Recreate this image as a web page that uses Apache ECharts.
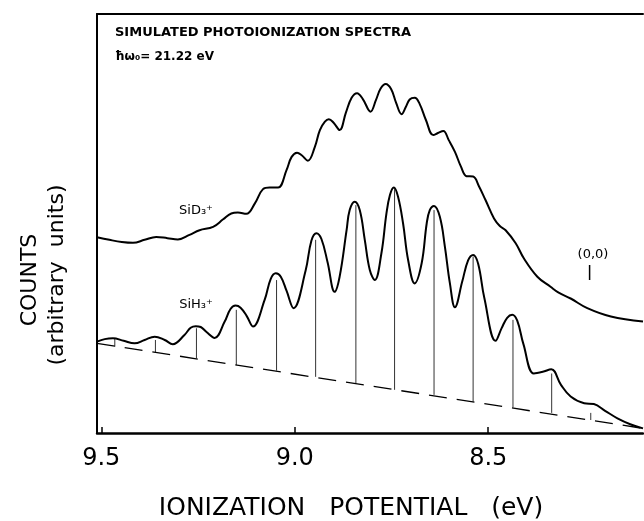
<!DOCTYPE html>
<html>
<head>
<meta charset="utf-8">
<script src="https://cdn.jsdelivr.net/npm/echarts@6/dist/echarts.min.js"></script>
<style>
html,body{margin:0;padding:0;background:#fff;}
#container1{width:644px;height:521px;}
</style>
</head>
<body>
<div id="container1"></div>
<script>
// values (eV, arbitrary counts 0-100)
var sidX = [9.511, 9.479, 9.447, 9.418, 9.388, 9.358, 9.329, 9.302, 9.272, 9.246, 9.211, 9.185, 9.164, 9.147, 9.125, 9.103, 9.082, 9.065, 9.043, 9.021, 9.008, 8.994, 8.982, 8.966, 8.948, 8.935, 8.922, 8.912, 8.899, 8.884, 8.868, 8.853, 8.839, 8.824, 8.804, 8.790, 8.778, 8.765, 8.751, 8.738, 8.724, 8.713, 8.703, 8.690, 8.677, 8.661, 8.642, 8.630, 8.616, 8.602, 8.586, 8.571, 8.556, 8.539, 8.524, 8.507, 8.485, 8.470, 8.455, 8.429, 8.408, 8.373, 8.339, 8.318, 8.287, 8.244, 8.183, 8.100];
var sidY = [46.7, 46.1, 45.6, 45.4, 46.1, 46.8, 46.5, 46.2, 47.3, 48.4, 49.2, 51.0, 52.4, 52.6, 52.3, 54.8, 58.2, 58.6, 58.6, 62.8, 65.9, 66.9, 66.3, 65.0, 68.3, 72.3, 74.3, 74.9, 74.0, 72.3, 76.4, 80.0, 81.1, 79.7, 76.7, 79.5, 82.2, 83.3, 82.1, 78.8, 76.1, 77.8, 79.6, 80.0, 78.5, 74.7, 71.1, 71.6, 72.1, 69.9, 67.1, 63.7, 61.3, 61.2, 58.9, 55.6, 51.2, 49.4, 48.4, 45.3, 41.7, 37.3, 34.9, 33.5, 32.1, 29.8, 27.8, 26.6];

var sihX = [9.511, 9.491, 9.470, 9.442, 9.414, 9.388, 9.362, 9.336, 9.315, 9.285, 9.269, 9.256, 9.243, 9.228, 9.207, 9.181, 9.166, 9.153, 9.140, 9.124, 9.108, 9.078, 9.062, 9.049, 9.036, 9.021, 9.003, 8.972, 8.957, 8.944, 8.931, 8.915, 8.897, 8.884, 8.866, 8.858, 8.845, 8.832, 8.819, 8.806, 8.793, 8.776, 8.763, 8.754, 8.744, 8.733, 8.720, 8.707, 8.690, 8.672, 8.659, 8.651, 8.640, 8.625, 8.612, 8.599, 8.586, 8.567, 8.552, 8.539, 8.526, 8.510, 8.481, 8.465, 8.451, 8.438, 8.425, 8.409, 8.382, 8.359, 8.337, 8.312, 8.287, 8.252, 8.227, 8.198, 8.166, 8.133, 8.100];
var sihY = [21.8, 22.4, 22.6, 22.0, 21.4, 22.2, 23.0, 22.2, 21.2, 23.4, 25.1, 25.5, 25.3, 24.1, 22.7, 26.6, 29.6, 30.4, 29.9, 27.9, 25.4, 31.7, 36.8, 38.1, 37.3, 33.9, 29.8, 38.7, 45.9, 47.7, 46.3, 40.7, 33.7, 37.3, 48.4, 53.2, 55.2, 53.2, 46.1, 38.9, 36.5, 42.9, 52.4, 56.8, 58.6, 56.4, 50.0, 41.3, 35.7, 40.5, 50.0, 53.2, 54.2, 51.6, 44.5, 35.7, 30.0, 36.2, 41.2, 42.5, 40.4, 32.2, 22.0, 25.1, 27.5, 28.2, 26.8, 21.2, 14.2, 14.6, 15.2, 11.5, 8.7, 7.1, 6.9, 5.3, 3.5, 2.1, 1.1];

// stick spectrum: position, bottom (on baseline), top
var stickX = [9.465, 9.360, 9.254, 9.151, 9.047, 8.946, 8.842, 8.742, 8.640, 8.539, 8.436, 8.336, 8.235];
var stickBase = [20.6, 19.2, 17.8, 16.2, 14.9, 13.4, 11.9, 10.3, 9.1, 7.5, 6.1, 4.8, 3.1];
var stickTop = [22.7, 22.2, 25.0, 29.4, 36.5, 46.1, 54.4, 58.2, 53.2, 42.1, 27.0, 14.2, 4.8];

var baseX = [9.511, 8.100];
var baseY = [21.4, 1.1];

var originX = 8.238;
var originY = [36.5, 40.1];

var tickValues = [9.5, 9.0, 8.5];

function pairs(xs, ys) {
    var out = [];
    for (var i = 0; i < xs.length; i++) {
        out.push([xs[i], ys[i]]);
    }
    return out;
}

var sticks = [];
for (var i = 0; i < stickX.length; i++) {
    sticks.push([stickX[i], stickBase[i], stickTop[i]]);
}

var FONT = '"DejaVu Sans", sans-serif';

var dom1 = document.getElementById('container1');
var myChart1 = echarts.init(dom1);
var option1 = {
    animation: false,
    backgroundColor: '#fff',
    grid: {
        left: 97,
        right: 1,
        top: 14,
        bottom: 88,
        containLabel: false,
        outerBoundsMode: 'none'
    },
    xAxis: [
        {
            type: 'value',
            min: 8.1,
            max: 9.511,
            inverse: true,
            position: 'bottom',
            name: 'IONIZATION   POTENTIAL   (eV)',
            nameLocation: 'middle',
            nameGap: 63,
            nameTextStyle: {
                color: '#000',
                fontFamily: FONT,
                fontSize: 25,
                padding: [0, 38, 0, 0]
            },
            axisLine: { show: true, onZero: false, lineStyle: { color: '#000', width: 2.5 } },
            axisTick: {
                show: true,
                inside: true,
                length: 6,
                customValues: tickValues,
                lineStyle: { color: '#000', width: 1.5 }
            },
            axisLabel: {
                show: true,
                margin: 14,
                customValues: tickValues,
                color: '#000',
                fontFamily: FONT,
                fontSize: 24,
                formatter: function (v) { return v.toFixed(1); }
            },
            splitLine: { show: false }
        },
        {
            type: 'value',
            min: 8.1,
            max: 9.511,
            inverse: true,
            position: 'top',
            axisLine: { show: true, onZero: false, lineStyle: { color: '#000', width: 2 } },
            axisTick: { show: false },
            axisLabel: { show: false },
            splitLine: { show: false }
        }
    ],
    yAxis: {
        type: 'value',
        min: 0,
        max: 100,
        axisLine: { show: true, onZero: false, lineStyle: { color: '#000', width: 2 } },
        axisTick: { show: false },
        axisLabel: { show: false },
        splitLine: { show: false }
    },
    graphic: [
        { type: 'text', x: 115, y: 33, style: { text: 'SIMULATED PHOTOIONIZATION SPECTRA', font: 'bold 13px ' + FONT, fill: '#000', align: 'left', verticalAlign: 'middle' } },
        { type: 'text', x: 115, y: 57, style: { text: 'ħω₀= 21.22 eV', font: 'bold 12px ' + FONT, fill: '#000', align: 'left', verticalAlign: 'middle' } },
        { type: 'text', x: 196, y: 211, style: { text: 'SiD₃⁺', font: '13px ' + FONT, fill: '#000', align: 'center', verticalAlign: 'middle' } },
        { type: 'text', x: 196, y: 305, style: { text: 'SiH₃⁺', font: '13px ' + FONT, fill: '#000', align: 'center', verticalAlign: 'middle' } },
        { type: 'text', x: 593, y: 255, style: { text: '(0,0)', font: '13px ' + FONT, fill: '#000', align: 'center', verticalAlign: 'middle' } },
        { type: 'text', x: 30, y: 280, rotation: Math.PI / 2, style: { text: 'COUNTS', font: '22px ' + FONT, fill: '#000', align: 'center', verticalAlign: 'middle' } },
        { type: 'text', x: 57, y: 275, rotation: Math.PI / 2, style: { text: '(arbitrary  units)', font: '22px ' + FONT, fill: '#000', align: 'center', verticalAlign: 'middle' } }
    ],
    series: [
        {
            name: 'SiD3+',
            type: 'line',
            data: pairs(sidX, sidY),
            showSymbol: false,
            smooth: 0.4,
            lineStyle: { color: '#000', width: 2 }
        },
        {
            name: 'SiH3+',
            type: 'line',
            data: pairs(sihX, sihY),
            showSymbol: false,
            smooth: 0.4,
            lineStyle: { color: '#000', width: 2 }
        },
        {
            name: 'baseline',
            type: 'line',
            data: pairs(baseX, baseY),
            showSymbol: false,
            lineStyle: { color: '#000', width: 1.3, type: [18, 10] }
        },
        {
            name: 'sticks',
            type: 'custom',
            data: sticks,
            encode: { x: 0, y: [1, 2] },
            renderItem: function (params, api) {
                var p0 = api.coord([api.value(0), api.value(1)]);
                var p1 = api.coord([api.value(0), api.value(2)]);
                return {
                    type: 'line',
                    shape: { x1: p0[0], y1: p0[1], x2: p1[0], y2: p1[1] },
                    style: { stroke: '#333', lineWidth: 1 }
                };
            }
        },
        {
            name: 'origin',
            type: 'line',
            data: [[originX, originY[0]], [originX, originY[1]]],
            showSymbol: false,
            lineStyle: { color: '#000', width: 1.5 }
        }
    ]
};
myChart1.setOption(option1);
</script>
</body>
</html>
